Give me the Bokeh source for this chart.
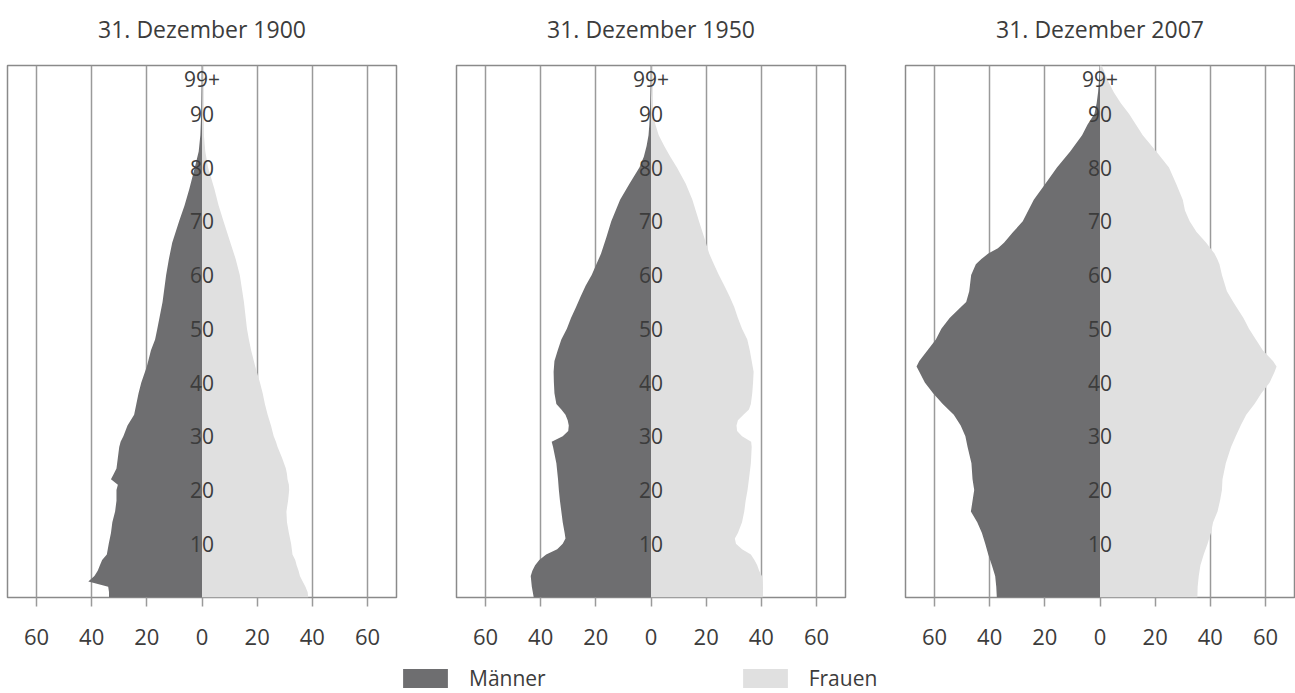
from bokeh.plotting import figure
from bokeh.models import Range1d, ColumnDataSource, FixedTicker, Legend, LegendItem
from bokeh.layouts import row, column
from bokeh.embed import file_html
from bokeh.resources import INLINE
from bokeh.core.properties import value

# ---------------- data ----------------
titles = ["31. Dezember 1900", "31. Dezember 1950", "31. Dezember 2007"]
series_names = ["Männer", "Frauen"]

ages_1900 = [0, 1, 2, 3, 4, 5, 6, 7, 8, 10, 12, 14, 16, 18, 20, 21, 22, 23, 24, 26, 28, 29, 30,
             32, 34, 36, 38, 40, 43, 46, 48, 50, 55, 60, 63, 66, 70, 73, 76, 80, 83, 86, 90, 95, 99]
maenner_1900 = [33.7, 33.7, 34.0, 41.2, 39.0, 37.8, 37.0, 36.2, 34.5, 33.8, 33.0, 32.5, 31.5, 31.0,
                31.0, 30.5, 33.0, 32.0, 31.0, 30.5, 30.0, 29.5, 28.5, 27.0, 24.6, 23.8, 23.0, 22.0,
                20.0, 18.5, 17.0, 16.2, 14.3, 13.0, 12.0, 10.8, 8.3, 6.3, 4.6, 2.6, 1.2, 0.6, 0.3, 0.15, 0.1]
frauen_1900 = [38.5, 38.3, 37.5, 36.5, 35.5, 35.0, 34.3, 33.8, 32.8, 32.3, 31.5, 30.8, 30.6, 31.2,
               31.6, 31.5, 31.0, 30.8, 30.4, 29.0, 27.4, 26.8, 26.0, 25.0, 23.8, 22.8, 22.0, 21.0,
               19.3, 17.8, 17.0, 16.3, 15.2, 13.7, 12.2, 10.3, 7.8, 6.0, 4.5, 2.2, 1.2, 0.7, 0.3, 0.15, 0.1]

ages_1950 = [0, 2, 4, 5, 6, 7, 8, 9, 10, 11, 12, 14, 16, 18, 20, 22, 25, 28, 29, 30, 31, 32, 33, 34,
             35, 36, 38, 40, 42, 44, 46, 48, 50, 52, 54, 56, 58, 60, 62, 64, 67, 70, 72, 74, 77, 80,
             82, 84, 86, 88, 90, 95, 99]
maenner_1950 = [42.5, 43.2, 43.6, 43.0, 42.0, 40.5, 38.0, 34.0, 32.0, 31.0, 31.3, 32.0, 32.5, 33.0,
                33.4, 33.7, 34.3, 35.5, 36.0, 32.0, 30.0, 29.8, 30.2, 31.0, 32.5, 34.3, 35.0, 35.2,
                35.3, 35.0, 33.8, 32.5, 30.5, 29.0, 27.2, 25.5, 23.7, 21.5, 19.8, 18.1, 16.2, 14.4,
                12.8, 11.2, 7.8, 4.2, 2.6, 1.6, 0.9, 0.6, 0.4, 0.15, 0.1]
frauen_1950 = [40.5, 40.6, 40.2, 39.2, 38.5, 37.5, 36.2, 33.0, 30.8, 30.4, 31.5, 33.0, 33.8, 34.3,
               35.0, 35.5, 36.2, 36.5, 36.3, 33.0, 31.2, 31.0, 31.5, 33.5, 35.5, 36.2, 36.7, 37.0,
               37.2, 36.5, 35.8, 34.9, 33.0, 31.5, 30.2, 28.5, 26.6, 24.6, 22.8, 21.1, 19.3, 17.4,
               16.2, 15.0, 12.6, 9.4, 7.0, 4.8, 2.8, 1.6, 0.6, 0.2, 0.1]

ages_2007 = [0, 2, 4, 6, 8, 10, 12, 14, 16, 18, 20, 22, 25, 28, 30, 32, 34, 36, 38, 40, 42, 43, 44,
             46, 48, 50, 52, 54, 55, 57, 60, 62, 63, 64, 65, 66, 68, 70, 72, 74, 77, 80, 83, 86, 88,
             90, 92, 94, 96, 98, 99]
maenner_2007 = [37.4, 37.6, 38.0, 39.2, 40.5, 41.6, 42.8, 44.5, 46.8, 46.2, 45.6, 46.2, 46.6, 48.0,
                48.8, 50.5, 53.0, 57.0, 60.5, 63.5, 65.5, 66.5, 65.5, 62.5, 59.5, 57.5, 54.5, 50.5,
                48.5, 47.4, 46.7, 45.0, 43.0, 40.5, 37.0, 34.8, 31.5, 28.0, 26.0, 24.0, 19.8, 15.6,
                10.8, 6.5, 4.5, 2.0, 1.2, 0.7, 0.4, 0.2, 0.1]
frauen_2007 = [35.3, 35.4, 35.8, 36.4, 37.6, 39.0, 40.2, 41.0, 42.6, 43.5, 44.2, 44.4, 45.6, 47.5,
               49.2, 51.0, 53.0, 56.0, 58.5, 61.5, 63.3, 64.0, 62.7, 59.0, 56.5, 54.0, 52.0, 49.5,
               48.3, 46.0, 44.2, 43.3, 42.5, 41.5, 40.0, 38.5, 35.0, 32.5, 30.8, 30.0, 27.6, 25.0,
               20.4, 15.5, 13.0, 10.5, 7.5, 5.0, 3.0, 1.4, 0.6]

x_ticks = [-60, -40, -20, 0, 20, 40, 60]
x_tick_labels = [str(abs(t)) for t in x_ticks]
age_labels = ["10", "20", "30", "40", "50", "60", "70", "80", "90", "99+"]
age_label_pos = [10, 20, 30, 40, 50, 60, 70, 80, 90, 96.5]
AGE_MAX = 99

# ---------------- style ----------------
FONT = "Open Sans"
C_MALE = "#6e6e70"
C_FEMALE = "#e0e0e0"
C_GRID = "#9a9a9a"
C_TEXT = "#3c3c3c"

panels = [
    (titles[0], ages_1900, maenner_1900, frauen_1900),
    (titles[1], ages_1950, maenner_1950, frauen_1950),
    (titles[2], ages_2007, maenner_2007, frauen_2007),
]
frame_w = 389
borders_left = [7, 1, 1]
borders_right = [59, 59, 1]
TITLE_H = 50

title_figs, figs = [], []
for (title, ages, men, women), bl, br in zip(panels, borders_left, borders_right):
    xr = Range1d(-70.5, 70.5)

    # ---- title strip ----
    t = figure(width=bl + frame_w + br, height=TITLE_H, x_range=xr, y_range=Range1d(0, 1),
               output_backend="svg", toolbar_location=None,
               min_border_left=bl, min_border_right=br, min_border_top=0, min_border_bottom=0)
    t.axis.visible = False
    t.grid.visible = False
    t.outline_line_color = None
    t.text(x=[0], y=[0.44], text=[title], text_align="center", text_baseline="middle",
           text_font=value(FONT), text_font_size="23px", text_color=C_TEXT)
    title_figs.append(t)

    # ---- pyramid ----
    p = figure(width=bl + frame_w + br, height=657 - TITLE_H, x_range=xr,
               y_range=Range1d(0, AGE_MAX), output_backend="svg", toolbar_location=None,
               min_border_left=bl, min_border_right=br, min_border_top=15, min_border_bottom=60)

    src = ColumnDataSource(dict(
        age=ages,
        m_left=[-v for v in men],
        zero=[0] * len(ages),
        f_right=women,
    ))
    p.harea(y="age", x1="m_left", x2="zero", source=src, fill_color=C_MALE)
    p.harea(y="age", x1="zero", x2="f_right", source=src, fill_color=C_FEMALE)

    lab_src = ColumnDataSource(dict(x=[0] * len(age_labels), y=age_label_pos, t=age_labels))
    p.text(x="x", y="y", text="t", source=lab_src, text_align="center", text_baseline="middle",
           text_font=value(FONT), text_font_size="21px", text_color=C_TEXT)

    p.yaxis.visible = False
    p.ygrid.visible = False
    p.xgrid.ticker = FixedTicker(ticks=x_ticks)
    p.xgrid.grid_line_color = C_GRID
    p.xgrid.grid_line_width = 1.5
    p.xaxis.ticker = FixedTicker(ticks=x_ticks)
    p.xaxis.major_label_overrides = {tk: lb for tk, lb in zip(x_ticks, x_tick_labels)}
    p.xaxis.axis_line_color = None
    p.xaxis.major_tick_line_color = C_GRID
    p.xaxis.major_tick_line_width = 1.5
    p.xaxis.major_tick_out = 9
    p.xaxis.major_tick_in = 0
    p.xaxis.minor_tick_line_color = None
    p.xaxis.major_label_standoff = 22
    p.xaxis.major_label_text_font = FONT
    p.xaxis.major_label_text_font_size = "22px"
    p.xaxis.major_label_text_color = C_TEXT
    p.outline_line_color = "#8a8a8a"
    p.outline_line_width = 1.5
    figs.append(p)

# ---------------- legend ----------------
leg = figure(width=1295, height=36, x_range=Range1d(0, 1), y_range=Range1d(0, 1),
             output_backend="svg", toolbar_location=None, min_border=0)
leg.axis.visible = False
leg.grid.visible = False
leg.outline_line_color = None
# zero-size placeholder glyphs, used only to give the legend its swatches
key_src = ColumnDataSource(dict(left=[0], right=[0], top=[0], bottom=[0]))
r_m = leg.quad(left="left", right="right", top="top", bottom="bottom", source=key_src,
               fill_color=C_MALE, line_color=None)
r_f = leg.quad(left="left", right="right", top="top", bottom="bottom", source=key_src,
               fill_color=C_FEMALE, line_color=None)
legend = Legend(items=[LegendItem(label=series_names[0], renderers=[r_m]),
                       LegendItem(label=series_names[1], renderers=[r_f])],
                orientation="horizontal", location=(397, 1),
                glyph_width=56, glyph_height=24, label_standoff=16, spacing=191,
                padding=0, margin=0, border_line_color=None, background_fill_alpha=0,
                label_text_font=FONT, label_text_font_size="21px", label_text_color=C_TEXT)
leg.add_layout(legend, "center")

layout = column(row(*title_figs), row(*figs), leg)
open("out.html", "w").write(file_html(layout, INLINE))
